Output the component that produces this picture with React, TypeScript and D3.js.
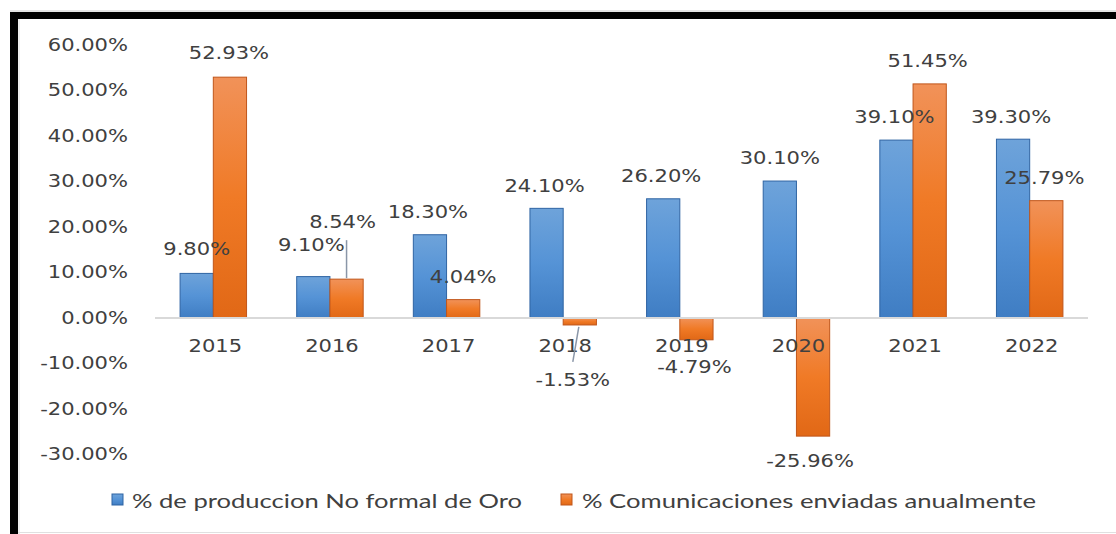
import React from "react";
import * as d3 from "d3";

const years = ["2015", "2016", "2017", "2018", "2019", "2020", "2021", "2022"];
const produccion = [9.8, 9.1, 18.3, 24.1, 26.2, 30.1, 39.1, 39.3];
const comunicaciones = [52.93, 8.54, 4.04, -1.53, -4.79, -25.96, 51.45, 25.79];
const yTicks = [60, 50, 40, 30, 20, 10, 0, -10, -20, -30];
const seriesNames = ["% de produccion No formal de Oro", "% Comunicaciones enviadas anualmente"];

// label nudges (px) relative to default placement
const blueNudge: [number, number][] = [[0, -1], [-2, -9], [-2, 0], [-2, 1], [-2, 0], [0, 0], [-2, 0], [-2, 1]];
const orangeNudge: [number, number][] = [[-1, -1], [-4, -34], [0, 0], [-7, 31], [-2, 3], [-3, 1], [-2, 0], [-2, 0]];

const W = 1116;
const H = 534;
const SX = 1.17;

function SText({ x, y, children, anchor = "middle", size = 18, family = "DejaVu Sans", fill = "#404040" }: any) {
  return (
    <text
      transform={`translate(${x},${y}) scale(${SX},1)`}
      textAnchor={anchor}
      dominantBaseline="central"
      fontFamily={family}
      fontSize={size}
      fill={fill}
    >
      {children}
    </text>
  );
}

export default function App() {
  const x = d3.scaleBand<string>().domain(years).range([155, 1088]).paddingInner(0.43).paddingOuter(0.215);
  const y = d3.scaleLinear().domain([-30, 60]).range([454.5, 45]);
  const bw = x.bandwidth() / 2;
  const fmt = (v: number) => v.toFixed(2) + "%";

  const renderSeries = (vals: number[], idx: number, grad: string, stroke: string) =>
    vals.map((v, i) => {
      const x0 = (x(years[i]) as number) + idx * bw;
      const top = y(Math.max(0, v));
      const bot = y(Math.min(0, v));
      return (
        <rect key={`b${idx}-${i}`} x={x0} y={top} width={bw} height={bot - top} fill={`url(#${grad})`} stroke={stroke} strokeWidth={1} />
      );
    });

  const renderLabels = (vals: number[], idx: number, nudge: [number, number][]) =>
    vals.map((v, i) => {
      const cx = (x(years[i]) as number) + idx * bw + bw / 2;
      const cy = v >= 0 ? y(v) - 23 : y(v) + 24;
      return (
        <SText key={`l${idx}-${i}`} x={cx + nudge[i][0]} y={cy + nudge[i][1]}>
          {fmt(v)}
        </SText>
      );
    });

  const o2016x = (x("2016") as number) + bw + bw / 2;
  const o2018x = (x("2018") as number) + bw + bw / 2;

  return (
    <svg width={W} height={H} style={{ position: "absolute", left: 0, top: 0, background: "#fff" }}>
      <defs>
        <linearGradient id="gBlue" x1="0" y1="0" x2="0" y2="1">
          <stop offset="0" stopColor="#6ea3da" />
          <stop offset="0.5" stopColor="#5593d6" />
          <stop offset="1" stopColor="#3f7dc3" />
        </linearGradient>
        <linearGradient id="gOrange" x1="0" y1="0" x2="0" y2="1">
          <stop offset="0" stopColor="#f19259" />
          <stop offset="0.5" stopColor="#f07a26" />
          <stop offset="1" stopColor="#e16816" />
        </linearGradient>
      </defs>
      <rect x={0} y={0} width={W} height={H} fill="#ffffff" />
      <line x1={10} y1={11} x2={W} y2={11} stroke="#c8c8c8" strokeWidth={1} />
      <line x1={19} y1={12} x2={19} y2={H} stroke="#dcdcdc" strokeWidth={1} />
      <line x1={14} y1={12} x2={14} y2={H} stroke="#000" strokeWidth={8} />
      <line x1={10} y1={15.5} x2={W} y2={15.5} stroke="#000" strokeWidth={7} />
      <line x1={18} y1={532.5} x2={W} y2={532.5} stroke="#e0e0e0" strokeWidth={1} />

      {yTicks.map((t) => (
        <SText key={`t${t}`} x={128} y={y(t)} anchor="end">
          {t.toFixed(2) + "%"}
        </SText>
      ))}

      {renderSeries(produccion, 0, "gBlue", "#2f64a3")}
      {renderSeries(comunicaciones, 1, "gOrange", "#c0561a")}

      <line x1={155} x2={1088} y1={y(0)} y2={y(0)} stroke="#d9d9d9" strokeWidth={2} />

      {years.map((yr) => (
        <SText key={`c${yr}`} x={(x(yr) as number) + x.bandwidth() / 2 + 2} y={346}>
          {yr}
        </SText>
      ))}

      <line x1={o2016x} y1={y(comunicaciones[1]) - 1} x2={o2016x} y2={y(comunicaciones[1]) - 39} stroke="#8a96a8" strokeWidth={1.5} />
      <line x1={o2018x - 1} y1={y(comunicaciones[3]) + 2} x2={o2018x - 7} y2={y(comunicaciones[3]) + 37} stroke="#8a96a8" strokeWidth={1.5} />

      {renderLabels(produccion, 0, blueNudge)}
      {renderLabels(comunicaciones, 1, orangeNudge)}

      <rect x={112} y={494} width={11} height={11} fill="url(#gBlue)" stroke="#2f64a3" strokeWidth={1} />
      <text x={132} y={500} dominantBaseline="central" fontFamily="Lato" fontSize={20} fill="#404040" textLength={390} lengthAdjust="spacingAndGlyphs">
        {seriesNames[0]}
      </text>
      <rect x={561} y={494} width={11} height={11} fill="url(#gOrange)" stroke="#c0561a" strokeWidth={1} />
      <text x={582} y={500} dominantBaseline="central" fontFamily="Lato" fontSize={20} fill="#404040" textLength={454} lengthAdjust="spacingAndGlyphs">
        {seriesNames[1]}
      </text>
    </svg>
  );
}
